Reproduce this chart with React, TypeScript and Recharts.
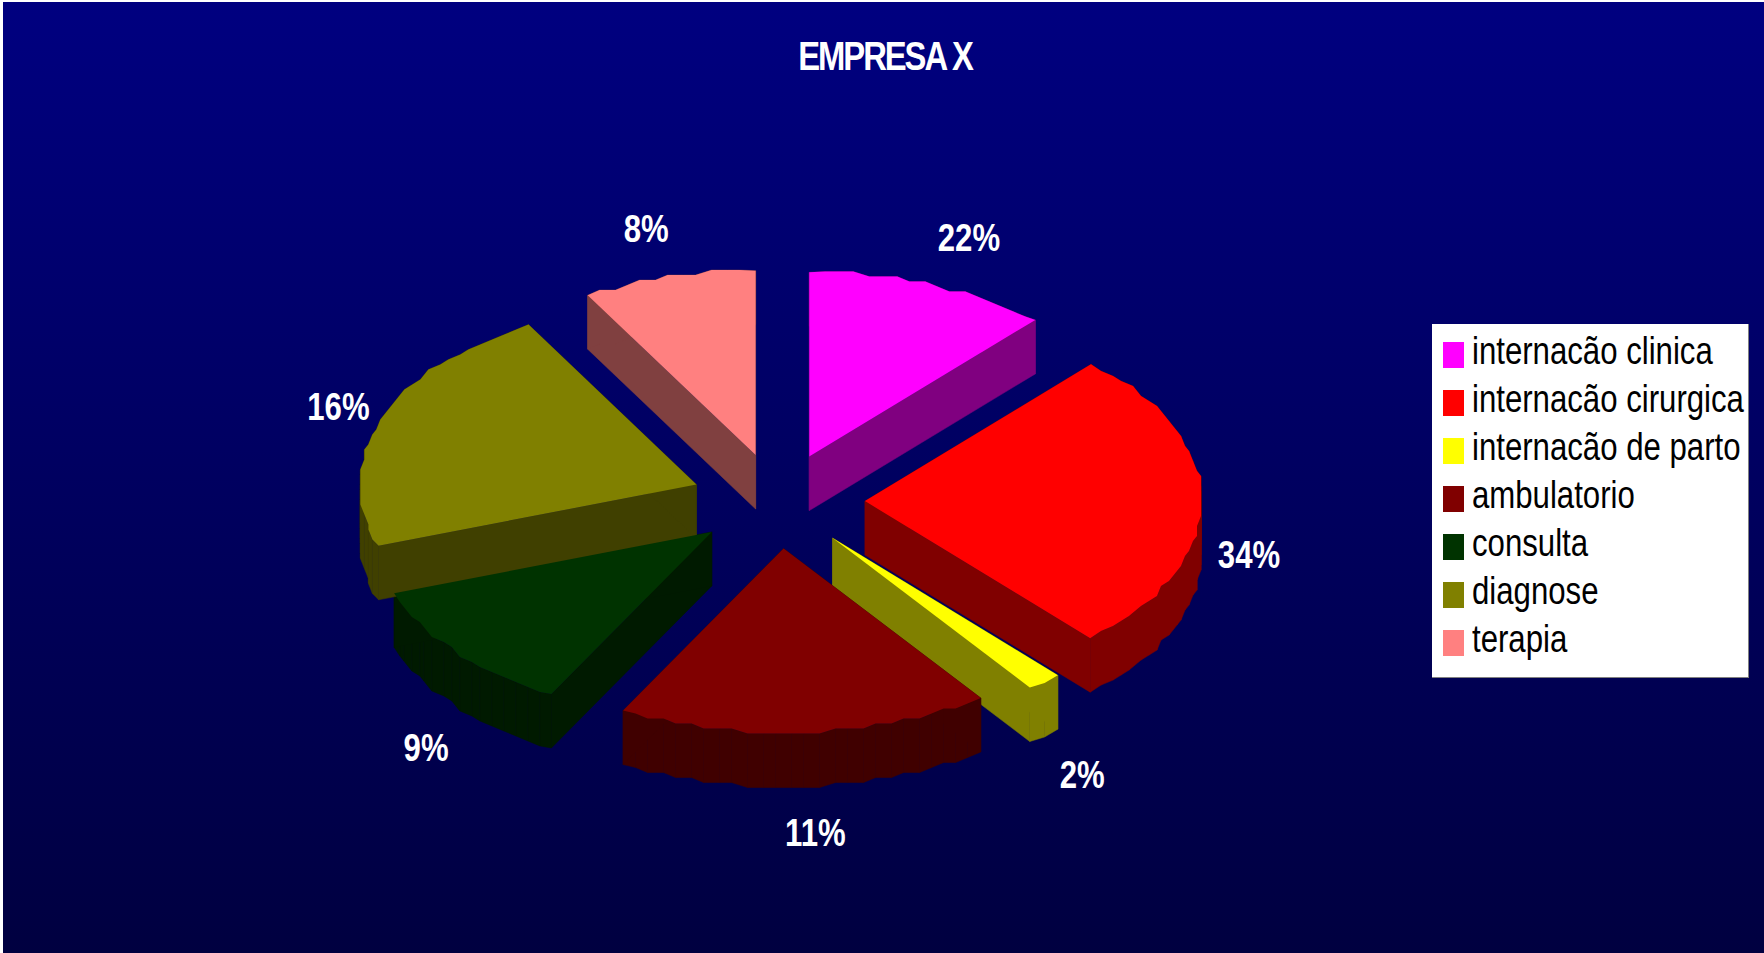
import { PieChart, Pie, Legend } from "recharts";

const categories = [
  "internacão clinica",
  "internacão cirurgica",
  "internacão de parto",
  "ambulatorio",
  "consulta",
  "diagnose",
  "terapia",
];
// printed labels do not match the drawn slice sizes in the picture, so both are kept
const sliceShares = [11.7, 26.65, 1.7, 17.85, 11.7, 22.1, 8.3];
const percentLabels = ["22%", "34%", "2%", "11%", "9%", "16%", "8%"];
const topColors = ["#FF00FF", "#FF0000", "#FFFF00", "#800000", "#003300", "#808000", "#FF8080"];
const sideColors = ["#800080", "#800000", "#808000", "#400000", "#001A00", "#404000", "#804040"];
// small hand corrections for the label placement
const labelShiftX = [3, -1, 8, 7, 7, 3, 3];
const labelShiftY = [-6, -1, 5, 2, 14, 2, -5];

const chartData = categories.map((name, i) => ({
  name,
  value: sliceShares[i],
  label: percentLabels[i],
  fill: topColors[i],
  side: sideColors[i],
}));

const WIDTH = 1764;
const HEIGHT = 953;
const CX = 778;
const CY = 501;
const RADIUS = 337;
const SQUASH = 0.547;
const EXPLODE = 87;
const DEPTH = 54;
const FONT = '"Liberation Sans", Arial, sans-serif';
const NARROW = 0.82;

const rad = (deg: number) => (deg * Math.PI) / 180;
const snap = (v: number, grid: number) => Math.round(v / grid) * grid;

// top outline of one slice, with the rough stepped rim of the original
function outline(p: any) {
  const mid = rad((p.startAngle + p.endAngle) / 2);
  const ax = p.cx + EXPLODE * Math.cos(mid);
  const ay = p.cy - EXPLODE * SQUASH * Math.sin(mid);
  const pts: [number, number][] = [[ax, ay]];
  const steps = Math.max(1, Math.round(Math.abs(p.endAngle - p.startAngle) / 2.5));
  for (let i = 0; i <= steps; i++) {
    const a = rad(p.startAngle + ((p.endAngle - p.startAngle) * i) / steps);
    const dx = p.outerRadius * Math.cos(a);
    const dy = p.outerRadius * SQUASH * Math.sin(a);
    const isEnd = i === 0 || i === steps;
    pts.push(isEnd ? [ax + dx, ay - dy] : [ax + snap(dx, 4), ay - snap(dy, 5)]);
  }
  return pts;
}

const toPath = (pts: [number, number][]) =>
  "M" + pts.map(([x, y]) => `${x.toFixed(1)},${y.toFixed(1)}`).join("L") + "Z";

function TopFace(props: any) {
  return <path d={toPath(outline(props))} fill={props.fill} stroke="none" />;
}

function SideFace(props: any) {
  const pts = outline(props);
  const color = props.payload?.side ?? props.side;
  return (
    <g>
      {pts.map((pt, i) => {
        const next = pts[(i + 1) % pts.length];
        const quad: [number, number][] = [pt, next, [next[0], next[1] + DEPTH], [pt[0], pt[1] + DEPTH]];
        return <path key={i} d={toPath(quad)} fill={color} stroke={color} strokeWidth={0.5} />;
      })}
    </g>
  );
}

function PercentLabel(props: any) {
  const a = rad(props.midAngle);
  const sin = Math.sin(a);
  const cos = Math.cos(a);
  const rx = sin > 0.8 ? 523 : 472;
  const i = props.index ?? 0;
  const x = props.cx + rx * cos + labelShiftX[i];
  const y = props.cy - 276 * sin + (sin < 0.1 ? 54 : 0) + labelShiftY[i];
  return (
    <text
      transform={`translate(${x},${y}) scale(${NARROW},1)`}
      fill="#FFFFFF"
      textAnchor="middle"
      dominantBaseline="central"
      style={{ fontFamily: FONT, fontSize: 38, fontWeight: 700 }}
    >
      {props.payload?.label ?? props.label}
    </text>
  );
}

function LegendBox({ payload }: any) {
  // both pies report to the legend, so take one entry per category in data order
  const rows = categories.map((name) => (payload ?? []).find((e: any) => e.value === name)).filter(Boolean);
  return (
    <div
      style={{
        width: 317,
        height: 354,
        boxSizing: "border-box",
        background: "#FFFFFF",
        borderRight: "1px solid #808080",
        borderBottom: "1px solid #808080",
        paddingTop: 5,
        overflow: "hidden",
      }}
    >
      {rows.map((entry: any) => (
        <div key={entry.value} style={{ display: "flex", alignItems: "center", height: 48, marginLeft: 11 }}>
          <span style={{ width: 21, height: 26, marginTop: 4, background: entry.color, flex: "none" }} />
          <span
            style={{
              marginLeft: 8,
              marginTop: -4,
              fontFamily: FONT,
              fontSize: 38,
              color: "#000000",
              whiteSpace: "nowrap",
              lineHeight: "48px",
              transform: `scaleX(${NARROW})`,
              transformOrigin: "left center",
            }}
          >
            {entry.value}
          </span>
        </div>
      ))}
    </div>
  );
}

export default function App() {
  return (
    <div style={{ position: "absolute", left: 0, top: 0, width: WIDTH, height: HEIGHT }}>
      <PieChart width={WIDTH} height={HEIGHT} margin={{ top: 0, right: 0, bottom: 0, left: 0 }}>
        <defs>
          <linearGradient id="pageFade" x1="0" y1="0" x2="0" y2="1">
            <stop offset="0%" stopColor="#000080" />
            <stop offset="100%" stopColor="#000040" />
          </linearGradient>
        </defs>
        <rect x={0} y={0} width={WIDTH} height={HEIGHT} fill="#FFFFFF" />
        <rect x={3} y={2} width={WIDTH - 3} height={HEIGHT - 2} fill="url(#pageFade)" />
        <text
          transform={`translate(885,70) scale(0.82,1)`}
          fill="#FFFFFF"
          textAnchor="middle"
          style={{ fontFamily: FONT, fontSize: 40, fontWeight: 700, letterSpacing: -2.5 }}
        >
          EMPRESA X
        </text>
        <Pie
          data={chartData}
          dataKey="value"
          nameKey="name"
          cx={CX}
          cy={CY}
          outerRadius={RADIUS}
          startAngle={90}
          endAngle={-270}
          stroke="none"
          legendType="none"
          shape={SideFace}
          isAnimationActive={false}
        />
        <Pie
          data={chartData}
          dataKey="value"
          nameKey="name"
          cx={CX}
          cy={CY}
          outerRadius={RADIUS}
          startAngle={90}
          endAngle={-270}
          stroke="none"
          shape={TopFace}
          label={PercentLabel}
          labelLine={false}
          isAnimationActive={false}
        />
        <Legend
          content={<LegendBox />}
          layout="vertical"
          wrapperStyle={{ left: 1432, top: 324, width: 317, height: 354, bottom: "auto", right: "auto" }}
        />
      </PieChart>
    </div>
  );
}
